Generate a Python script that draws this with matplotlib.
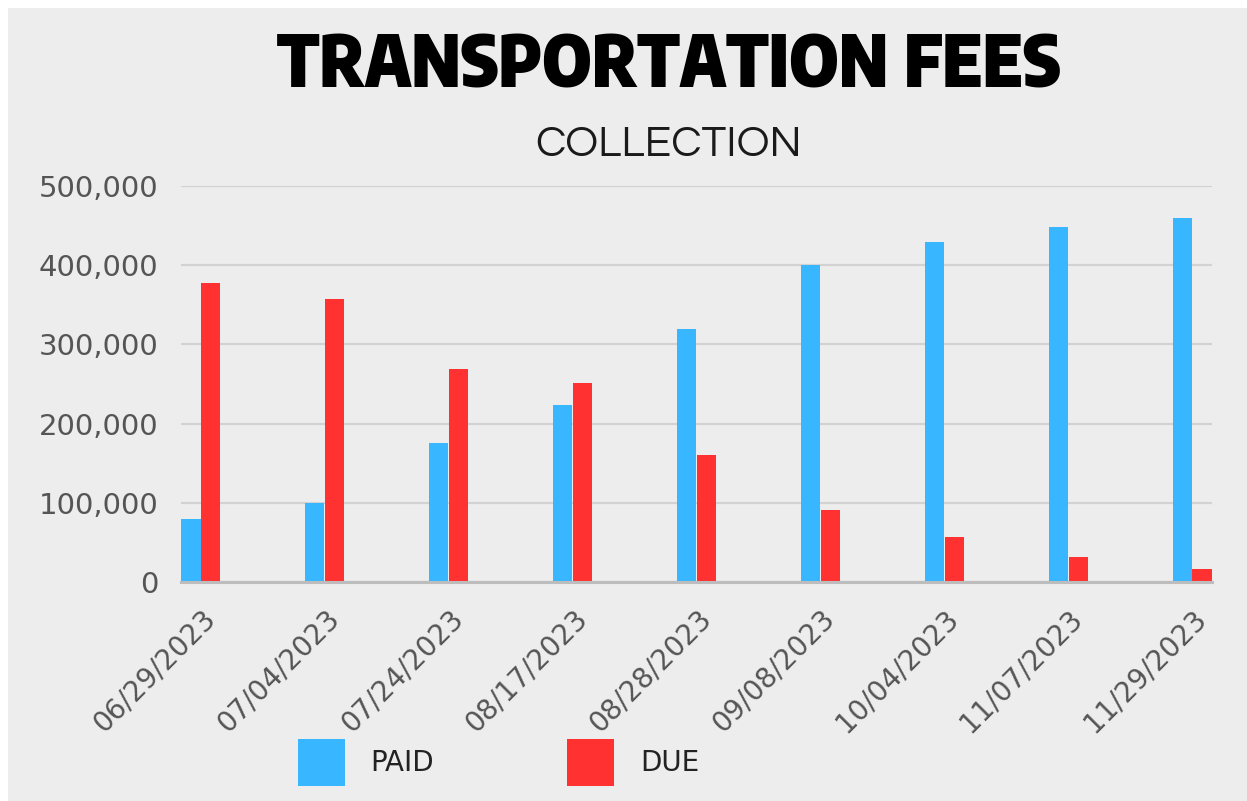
import matplotlib
matplotlib.use("Agg")
import matplotlib.pyplot as plt
from matplotlib.patches import Rectangle
from matplotlib.ticker import FuncFormatter, MultipleLocator
from matplotlib.textpath import TextPath
from matplotlib import font_manager as fm
import matplotlib.transforms as mtransforms
import numpy as np

# ---- data ----
dates = ["06/29/2023", "07/04/2023", "07/24/2023", "08/17/2023", "08/28/2023",
         "09/08/2023", "10/04/2023", "11/07/2023", "11/29/2023"]
paid = [79000, 100000, 175000, 224000, 320000, 400000, 429000, 448000, 460000]
due = [377000, 357000, 269000, 251000, 160000, 91000, 57000, 31000, 16000]
series_labels = ["PAID", "DUE"]
title = "TRANSPORTATION FEES"
subtitle = "COLLECTION"

BLUE = "#38B6FF"
RED = "#FF3131"
BG = "#EDEDED"

W, H = 1247, 801
fig = plt.figure(figsize=(W / 100, H / 100), dpi=100, facecolor="white")
fig.patches.append(Rectangle((8 / W, 0), 1 - 8 / W, 1 - 8 / H, transform=fig.transFigure,
                             facecolor=BG, edgecolor="none", zorder=-10))

ax = fig.add_axes([181 / W, 1 - 582 / H, (1212 - 181) / W, (582 - 186) / H])
ax.patch.set_alpha(0)

x = np.arange(len(dates))
bw = 0.16
b1 = ax.bar(x - bw / 2, paid, width=bw * 0.97, color=BLUE, label=series_labels[0], zorder=3)
b2 = ax.bar(x + bw / 2, due, width=bw * 0.97, color=RED, label=series_labels[1], zorder=3)

ax.set_xlim(-bw, len(dates) - 1 + bw)
ax.set_ylim(0, 500000)
ax.yaxis.set_major_locator(MultipleLocator(100000))
ax.yaxis.set_major_formatter(FuncFormatter(lambda v, p: f"{int(v):,}"))
ax.grid(axis="y", color="#D2D2D2", linewidth=1.6, zorder=0)
for s in ["top", "right", "left"]:
    ax.spines[s].set_visible(False)
ax.spines["bottom"].set_color("#BDBDBD")
ax.spines["bottom"].set_linewidth(2.2)
ax.spines["bottom"].set_zorder(4)

ax.tick_params(axis="y", length=0, pad=16.5, labelsize=21, labelcolor="#555555")
ax.tick_params(axis="x", length=0, pad=23, labelsize=20, labelcolor="#555555")
ax.set_xticks(x)
ax.set_xticklabels(dates, rotation=45, ha="right", va="center", rotation_mode="anchor")
off = mtransforms.ScaledTranslation(10 / 100, 0, fig.dpi_scale_trans)
for lab in ax.get_xticklabels():
    lab.set_transform(lab.get_transform() + off)


def size_for_cap(prop, cap_px):
    h = TextPath((0, 0), "H", prop=prop, size=100).get_extents().height / 100
    return cap_px / h * 72 / 100


tprop = fm.FontProperties(family="Encode Sans Condensed", weight=900)
tprop.set_size(size_for_cap(tprop, 53))
fig.text(669 / W, 1 - 88 / H, title, fontproperties=tprop, color="black",
         ha="center", va="baseline")
sprop = fm.FontProperties(family="Questrial", weight=400)
sprop.set_size(size_for_cap(sprop, 29))
fig.text(668 / W, 1 - 156 / H, subtitle, fontproperties=sprop,
         color="#1a1a1a", ha="center", va="baseline")

fs = 20
fpx = fs * 100 / 72
fig.legend([b1, b2], series_labels, loc="center", bbox_to_anchor=(498.5 / W, 1 - 762.3 / H),
           ncol=2, frameon=False, fontsize=fs, handlelength=47 / fpx, handleheight=2.226,
           handletextpad=26 / fpx, columnspacing=133 / fpx, labelcolor="#222222",
           borderpad=0, borderaxespad=0)

fig.savefig("out.png", dpi=100, facecolor="white")
